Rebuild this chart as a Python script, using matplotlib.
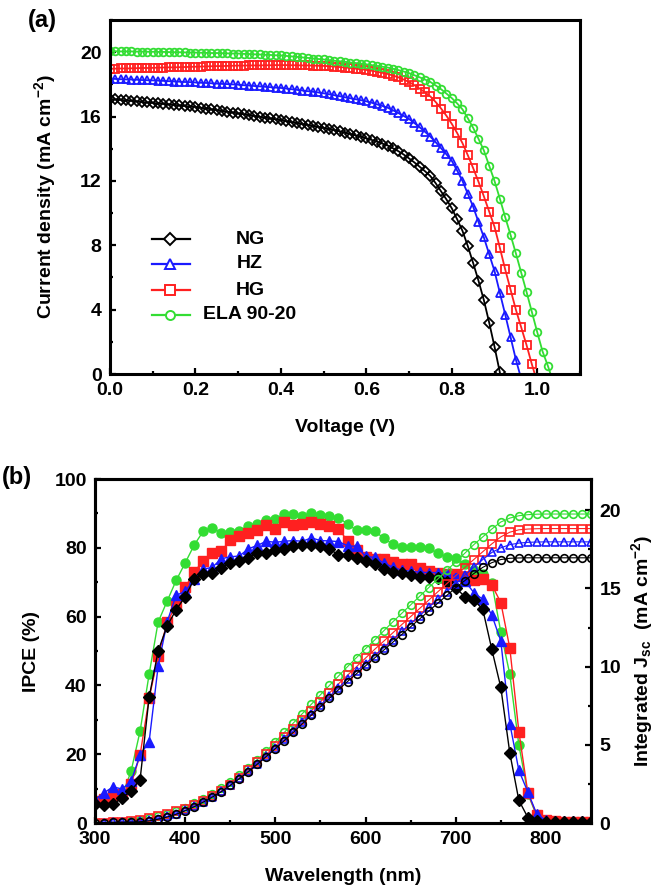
import numpy as np
import matplotlib
matplotlib.use("Agg")
import matplotlib.pyplot as plt
from matplotlib.ticker import MultipleLocator

plt.rcParams['font.family'] = ['Liberation Sans', 'DejaVu Sans']
plt.rcParams['font.weight'] = 'bold'
plt.rcParams['axes.labelweight'] = 'bold'
plt.rcParams['mathtext.fontset'] = 'custom'
plt.rcParams['mathtext.rm'] = 'Liberation Sans:bold'
plt.rcParams['mathtext.it'] = 'Liberation Sans:bold'
plt.rcParams['mathtext.bf'] = 'Liberation Sans:bold'

# ---- (a) J-V curves, sweep step 0.0125 V starting at 0 V ----
v_step = 0.0125
labels = ['NG', 'HZ', 'HG', 'ELA 90-20']
colors = ['#000000', '#1a1aff', '#ff2020', '#33dd33']
markers = ['D', '^', 's', 'o']
jsc_markers = ['o', '^', 's', 'o']

j_ng = [17.10, 17.07, 17.04, 17.01, 16.98, 16.95, 16.91, 16.88, 16.85, 16.82,
        16.79, 16.76, 16.73, 16.70, 16.66, 16.63, 16.60, 16.55, 16.50, 16.45,
        16.40, 16.35, 16.30, 16.25, 16.20, 16.15, 16.10, 16.04, 15.99, 15.94,
        15.89, 15.83, 15.78, 15.72, 15.66, 15.60, 15.54, 15.48, 15.42, 15.36,
        15.30, 15.23, 15.16, 15.09, 15.00, 14.92, 14.84, 14.75, 14.65, 14.55,
        14.44, 14.32, 14.20, 14.03, 13.85, 13.64, 13.40, 13.15, 12.88, 12.60,
        12.30, 11.85, 11.35, 10.85, 10.30, 9.62, 8.90, 7.95, 6.90, 5.80,
        4.60, 3.20, 1.70, 0.10]
j_hz = [18.35, 18.34, 18.32, 18.31, 18.30, 18.29, 18.27, 18.26, 18.25, 18.23,
        18.22, 18.20, 18.18, 18.17, 18.15, 18.14, 18.12, 18.10, 18.09, 18.07,
        18.05, 18.03, 18.02, 18.00, 17.98, 17.95, 17.93, 17.90, 17.88, 17.85,
        17.83, 17.80, 17.78, 17.74, 17.70, 17.66, 17.62, 17.58, 17.54, 17.50,
        17.45, 17.39, 17.33, 17.27, 17.20, 17.14, 17.08, 17.02, 16.95, 16.86,
        16.76, 16.66, 16.55, 16.39, 16.22, 16.04, 15.85, 15.60, 15.33, 15.05,
        14.75, 14.40, 14.03, 13.65, 13.25, 12.65, 12.00, 11.20, 10.40, 9.45,
        8.50, 7.45, 6.40, 5.05, 3.70, 2.30, 0.90, -0.30]
j_hg = [18.97, 18.98, 18.99, 18.99, 19.00, 19.01, 19.02, 19.02, 19.03, 19.04,
        19.05, 19.06, 19.06, 19.07, 19.08, 19.09, 19.10, 19.11, 19.12, 19.13,
        19.14, 19.14, 19.15, 19.16, 19.17, 19.17, 19.18, 19.18, 19.18, 19.19,
        19.19, 19.20, 19.20, 19.20, 19.19, 19.19, 19.18, 19.18, 19.17, 19.16,
        19.15, 19.13, 19.11, 19.08, 19.05, 19.02, 18.98, 18.94, 18.90, 18.85,
        18.79, 18.72, 18.65, 18.55, 18.44, 18.30, 18.15, 17.95, 17.74, 17.50,
        17.25, 16.90, 16.50, 16.05, 15.55, 14.98, 14.35, 13.60, 12.80, 11.95,
        11.05, 10.10, 9.15, 7.85, 6.50, 5.25, 4.00, 2.90, 1.80, 0.60, -0.50]
j_ela = [20.06, 20.06, 20.05, 20.05, 20.05, 20.04, 20.04, 20.03, 20.03, 20.02,
         20.02, 20.01, 20.00, 20.00, 19.99, 19.98, 19.98, 19.97, 19.96, 19.95,
         19.95, 19.94, 19.93, 19.92, 19.92, 19.90, 19.89, 19.87, 19.86, 19.84,
         19.83, 19.81, 19.80, 19.77, 19.74, 19.71, 19.68, 19.65, 19.61, 19.58,
         19.55, 19.51, 19.47, 19.44, 19.40, 19.36, 19.33, 19.29, 19.25, 19.20,
         19.15, 19.10, 19.05, 18.97, 18.89, 18.80, 18.70, 18.57, 18.44, 18.30,
         18.15, 17.93, 17.70, 17.43, 17.15, 16.82, 16.45, 15.90, 15.30, 14.62,
         13.90, 12.95, 12.00, 10.90, 9.75, 8.65, 7.50, 6.30, 5.10, 3.85,
         2.60, 1.40, 0.50, -0.50]
jv_curves = [j_ng, j_hz, j_hg, j_ela]

# ---- (b) IPCE (%) and integrated Jsc (mA cm-2), 300-850 nm every 10 nm ----
wavelength = np.arange(300, 851, 10)

ipce_ng = [5.6, 5.3, 5.4, 7.3, 9.4, 12.6, 36.5, 50.0, 57.3, 62.0, 65.8,
           70.9, 72.3, 72.8, 74.1, 75.6, 76.1, 77.0, 78.6, 78.5, 79.4,
           79.7, 80.4, 80.8, 80.9, 80.6, 79.6, 78.0, 77.9, 76.9, 76.1,
           75.3, 73.9, 72.9, 72.6, 72.0, 71.5, 71.6, 71.2, 70.0, 68.4,
           65.8, 64.9, 62.1, 50.5, 39.4, 20.3, 6.6, 1.6, 0.6, 0.4,
           0.3, 0.3, 0.3, 0.3, 0.3]
ipce_hz = [6.8, 8.8, 10.5, 9.9, 12.1, 19.8, 23.6, 45.5, 58.5, 66.2, 67.3,
           70.8, 73.8, 74.3, 76.8, 77.4, 77.6, 79.7, 80.7, 81.9, 81.6,
           81.9, 82.1, 81.9, 82.9, 82.1, 82.0, 81.8, 80.6, 80.4, 77.5,
           77.2, 75.6, 74.4, 73.5, 73.2, 72.9, 72.8, 72.8, 72.4, 71.8,
           70.4, 67.0, 65.0, 60.5, 52.9, 28.9, 15.3, 9.0, 2.5, 0.8,
           0.5, 0.5, 0.5, 0.5, 0.5]
ipce_hg = [6.3, 7.0, 8.2, 8.5, 11.2, 19.8, 36.2, 48.5, 58.3, 63.4, 68.5,
           73.0, 76.2, 78.4, 79.1, 82.2, 83.4, 84.4, 85.1, 86.6, 85.6,
           87.6, 86.6, 86.9, 87.5, 86.9, 86.2, 85.6, 82.0, 79.3, 77.3,
           76.8, 76.7, 75.8, 75.4, 75.3, 74.2, 73.3, 72.8, 72.4, 72.5,
           71.5, 70.5, 70.8, 69.2, 64.1, 50.8, 26.6, 8.7, 2.2, 1.0,
           0.5, 0.3, 0.3, 0.3, 0.3]
ipce_ela = [6.2, 6.6, 7.5, 8.0, 15.0, 26.7, 43.2, 58.4, 64.5, 70.5, 75.6,
            80.8, 84.8, 85.9, 84.2, 84.6, 85.0, 86.3, 86.9, 88.0, 88.5,
            89.8, 89.9, 89.1, 90.1, 89.5, 89.2, 88.8, 86.9, 85.1, 85.1,
            84.8, 82.9, 81.0, 80.3, 80.2, 80.2, 79.8, 78.5, 77.3, 77.1,
            75.4, 73.5, 72.3, 69.8, 55.5, 43.2, 22.7, 8.5, 1.9, 0.8,
            0.4, 0.3, 0.3, 0.3, 0.3]

jsc_ng = [0.02, 0.03, 0.04, 0.05, 0.06, 0.08, 0.14, 0.24, 0.38, 0.56, 0.78,
          1.04, 1.33, 1.65, 2.00, 2.40, 2.83, 3.28, 3.76, 4.25, 4.75,
          5.27, 5.80, 6.35, 6.90, 7.43, 7.98, 8.52, 9.05, 9.55, 10.05,
          10.55, 11.05, 11.55, 12.05, 12.55, 13.05, 13.55, 14.05, 14.55, 15.05,
          15.50, 15.95, 16.35, 16.65, 16.85, 16.93, 16.95, 16.96, 16.96, 16.96,
          16.96, 16.96, 16.96, 16.96, 16.96]
jsc_hz = [0.02, 0.03, 0.04, 0.06, 0.08, 0.12, 0.18, 0.28, 0.42, 0.60, 0.82,
          1.08, 1.36, 1.68, 2.02, 2.42, 2.85, 3.30, 3.80, 4.30, 4.80,
          5.35, 5.90, 6.45, 7.00, 7.55, 8.10, 8.65, 9.20, 9.70, 10.20,
          10.70, 11.20, 11.70, 12.25, 12.75, 13.25, 13.80, 14.30, 14.80, 15.30,
          15.85, 16.35, 16.85, 17.30, 17.60, 17.80, 17.90, 17.95, 17.97, 17.98,
          17.98, 17.98, 17.98, 17.98, 17.98]
jsc_hg = [0.02, 0.03, 0.05, 0.07, 0.10, 0.17, 0.30, 0.45, 0.60, 0.75, 0.92,
          1.15, 1.42, 1.72, 2.05, 2.45, 2.90, 3.38, 3.88, 4.40, 4.93,
          5.48, 6.03, 6.60, 7.18, 7.75, 8.32, 8.90, 9.45, 10.00, 10.55,
          11.10, 11.62, 12.15, 12.68, 13.20, 13.72, 14.25, 14.78, 15.30, 15.82,
          16.33, 16.85, 17.35, 17.85, 18.30, 18.60, 18.75, 18.80, 18.82, 18.83,
          18.83, 18.83, 18.83, 18.83, 18.83]
jsc_ela = [0.02, 0.03, 0.05, 0.08, 0.12, 0.20, 0.32, 0.45, 0.60, 0.78, 0.98,
           1.25, 1.55, 1.88, 2.22, 2.60, 3.05, 3.55, 4.05, 4.60, 5.20,
           5.80, 6.40, 7.00, 7.60, 8.20, 8.80, 9.40, 10.00, 10.58, 11.15,
           11.70, 12.28, 12.85, 13.40, 13.95, 14.50, 15.05, 15.60, 16.15, 16.70,
           17.25, 17.80, 18.30, 18.80, 19.25, 19.50, 19.65, 19.72, 19.75, 19.76,
           19.76, 19.76, 19.76, 19.76, 19.76]
ipce_curves = [ipce_ng, ipce_hz, ipce_hg, ipce_ela]
jsc_curves = [jsc_ng, jsc_hz, jsc_hg, jsc_ela]


def style_axis(ax, right=False):
    for sp in ax.spines.values():
        sp.set_linewidth(2.2)
    ax.tick_params(which='both', direction='in', width=1.6, labelsize=14,
                   top=False, right=False, pad=6)
    ax.tick_params(which='major', length=4)
    ax.tick_params(which='minor', length=2.5)
    if right:
        ax.tick_params(which='both', left=False, right=True,
                       labelleft=False, labelright=True)


fig = plt.figure(figsize=(6.61, 8.91), dpi=100)

# ---------------- panel (a) ----------------
ax = fig.add_axes([0.1664, 0.5802, 0.711, 0.3973])
for jv, c, m in zip(jv_curves, colors, markers):
    v = np.arange(len(jv)) * v_step
    ax.plot(v, jv, color=c, lw=1.3, marker=m, ms=5.5 if m != 'D' else 5,
            mfc='none', mec=c, mew=1.3, clip_on=True)
ax.set_xlim(0, 1.1)
ax.set_ylim(0, 22)
ax.xaxis.set_major_locator(MultipleLocator(0.2))
ax.xaxis.set_minor_locator(MultipleLocator(0.1))
ax.yaxis.set_major_locator(MultipleLocator(4))
ax.yaxis.set_minor_locator(MultipleLocator(2))
ax.set_xticks([0.0, 0.2, 0.4, 0.6, 0.8, 1.0])
ax.set_xticklabels(['0.0', '0.2', '0.4', '0.6', '0.8', '1.0'])
style_axis(ax)
ax.set_xlabel('Voltage (V)', fontsize=14, labelpad=14)
ax.set_ylabel('Current density (mA cm$^{-2}$)', fontsize=14, labelpad=16)

# legend drawn by hand so the labels are centred like the original
leg_y = [0.381, 0.311, 0.237, 0.167]
for lab, c, m, y in zip(labels, colors, markers, leg_y):
    ax.plot([0.089, 0.170], [y, y], color=c, lw=1.6, transform=ax.transAxes)
    ax.plot([0.128], [y], marker=m, ms=6.5 if m != 'D' else 6, mfc='white',
            mec=c, mew=1.4, transform=ax.transAxes)
    ax.text(0.298, y, lab, transform=ax.transAxes, ha='center', va='center',
            fontsize=14, fontweight='bold')

fig.text(0.042, 0.977, '(a)', fontsize=17, fontweight='bold',
         ha='left', va='center')

# ---------------- panel (b) ----------------
axb = fig.add_axes([0.1437, 0.0763, 0.7504, 0.3861])
axj = axb.twinx()
order = [3, 2, 1, 0]
for i in order:
    c, m = colors[i], markers[i]
    axb.plot(wavelength, ipce_curves[i], color=c, lw=1.0, marker=m,
             ms=6.5 if m != 'D' else 6, mfc=c, mec=c, clip_on=True)
for i in order:
    c, m = colors[i], jsc_markers[i]
    axj.plot(wavelength, jsc_curves[i], color=c, lw=0.8, marker=m,
             ms=5.5, mfc='none', mec=c, mew=1.2, clip_on=True)

axb.set_xlim(300, 850)
axb.set_ylim(0, 100)
axj.set_ylim(0, 22)
axb.xaxis.set_major_locator(MultipleLocator(100))
axb.xaxis.set_minor_locator(MultipleLocator(50))
axb.yaxis.set_major_locator(MultipleLocator(20))
axb.yaxis.set_minor_locator(MultipleLocator(10))
axj.yaxis.set_major_locator(MultipleLocator(5))
axj.yaxis.set_minor_locator(MultipleLocator(2.5))
style_axis(axb)
style_axis(axj, right=True)
axj.tick_params(which='both', bottom=False, labelbottom=False)

axb.set_xlabel('Wavelength (nm)', fontsize=14, labelpad=14)
axb.set_ylabel('IPCE (%)', fontsize=14, labelpad=10)
axj.set_ylabel('Integrated J$_{sc}$  (mA cm$^{-2}$)', fontsize=14,
               rotation=90, labelpad=6)

fig.text(0.003, 0.4646, '(b)', fontsize=17, fontweight='bold',
         ha='left', va='center')

fig.savefig('out.png', dpi=100)
